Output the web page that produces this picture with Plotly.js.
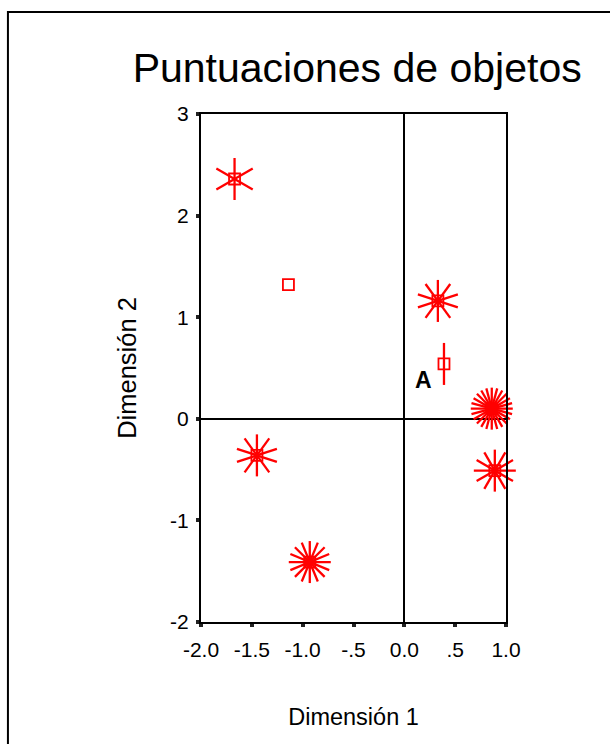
<!DOCTYPE html>
<html>
<head>
<meta charset="utf-8">
<script src="https://cdn.plot.ly/plotly-3.0.1.min.js"></script>
<style>html,body{margin:0;padding:0;background:#fff;}#chart{width:610px;height:744px;}</style>
</head>
<body>
<div id="chart"></div>
<script>
// Object scores (Dimension 1, Dimension 2) and number of sunflower lines per point
const dim1 = [-1.67, -1.14, 0.33, 0.39, 0.86, 0.89, -1.45, -0.93];
const dim2 = [2.36, 1.32, 1.16, 0.54, 0.10, -0.51, -0.36, -1.41];
const petalLines = [3, 0, 5, 1, 12, 6, 5, 8];
const xTickVals = [-2, -1.5, -1, -0.5, 0, 0.5, 1];
const xTickText = ['-2.0', '-1.5', '-1.0', '-.5', '0.0', '.5', '1.0'];
const yTickVals = [-2, -1, 0, 1, 2, 3];
const yTickText = ['-2', '-1', '0', '1', '2', '3'];
const labelText = 'A';
const labelPos = [0.19, 0.38];

const RED = '#ff0000';
const FONT = 'Liberation Sans, Arial, sans-serif';

// Sunflower rays
const rx = [], ry = [], ra = [];
dim1.forEach((x, i) => {
  const n = petalLines[i];
  for (let k = 0; k < n; k++) {
    rx.push(x); ry.push(dim2[i]); ra.push(k * 180 / n);
  }
});

const traces = [
  {
    type: 'scatter', mode: 'markers', x: rx, y: ry, hoverinfo: 'skip', showlegend: false, cliponaxis: false,
    marker: {symbol: 'line-ns-open', size: 30, angle: ra, color: RED, line: {color: RED, width: 2.3}}
  },
  {
    type: 'scatter', mode: 'markers', x: dim1, y: dim2, showlegend: false, cliponaxis: false,
    marker: {symbol: 'square-open', size: 11, color: RED, line: {color: RED, width: 1.8}}
  }
];

const layout = {
  width: 610, height: 744,
  margin: {l: 201, r: 104, t: 114, b: 122},
  paper_bgcolor: '#fff', plot_bgcolor: '#fff',
  font: {family: FONT, color: '#000', size: 21},
  title: {
    text: 'Puntuaciones de objetos',
    font: {family: FONT, size: 41, color: '#000'},
    x: 0.512, xanchor: 'center', xref: 'paper',
    y: 0.909, yanchor: 'middle', yref: 'container'
  },
  xaxis: {
    range: [-2, 1], tickvals: xTickVals, ticktext: xTickText,
    showgrid: false, zeroline: true, zerolinecolor: '#000', zerolinewidth: 2,
    showline: true, linecolor: '#000', linewidth: 2, mirror: true,
    ticks: 'outside', ticklen: 3, tickwidth: 4, tickcolor: '#222', ticklabelstandoff: 5,
    tickfont: {family: FONT, size: 21, color: '#000'},
    title: {text: 'Dimensión 1', font: {family: FONT, size: 23.5, color: '#000'}, standoff: 48},
    automargin: false, fixedrange: true
  },
  yaxis: {
    range: [-2, 3], tickvals: yTickVals, ticktext: yTickText,
    showgrid: false, zeroline: true, zerolinecolor: '#000', zerolinewidth: 2,
    showline: true, linecolor: '#000', linewidth: 2, mirror: true,
    ticks: 'outside', ticklen: 3, tickwidth: 4, tickcolor: '#222', ticklabelstandoff: 3,
    tickfont: {family: FONT, size: 21, color: '#000'},
    title: {text: 'Dimensión 2', font: {family: FONT, size: 25.5, color: '#000'}, standoff: 26},
    automargin: false, fixedrange: true
  },
  annotations: [
    {x: labelPos[0], y: labelPos[1], xref: 'x', yref: 'y', text: '<b>' + labelText + '</b>',
     showarrow: false, font: {family: FONT, size: 23, color: '#000'}}
  ],
  shapes: [
    {type: 'rect', xref: 'paper', yref: 'paper', x0: -0.633, x1: 1.6, y0: -0.5, y1: 1.2008,
     line: {color: '#000', width: 2}, fillcolor: 'rgba(0,0,0,0)', layer: 'below'}
  ]
};

Plotly.newPlot('chart', traces, layout, {displayModeBar: false, staticPlot: true});
</script>
</body>
</html>
